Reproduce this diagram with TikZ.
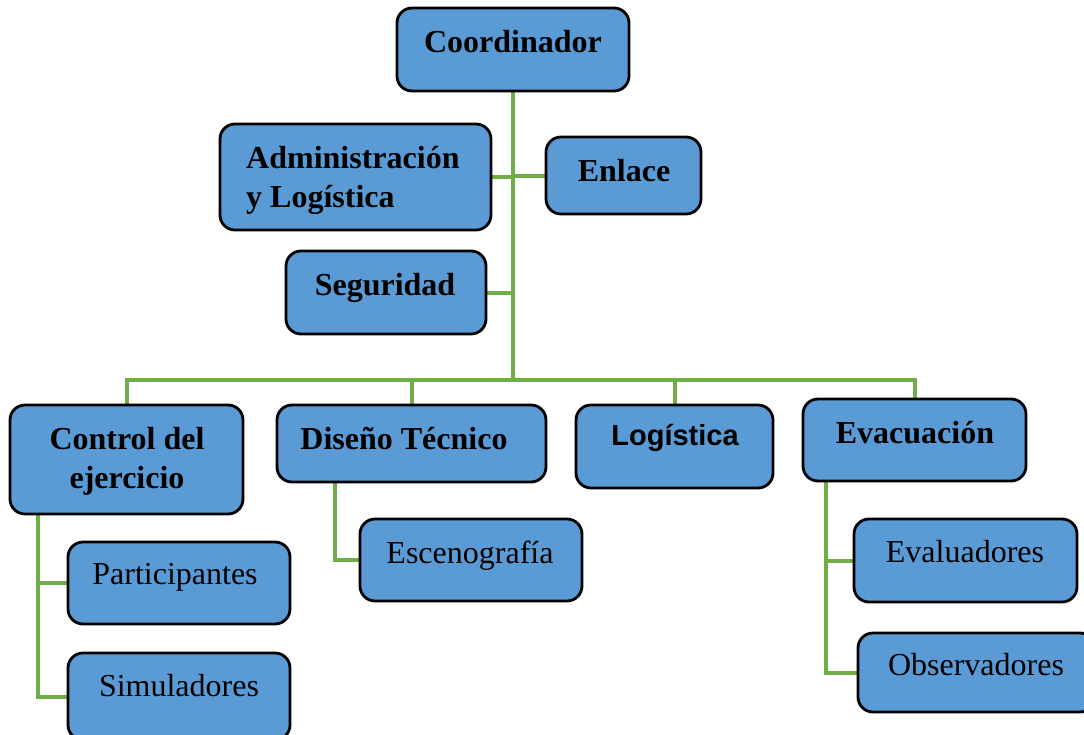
\documentclass[tikz,border=0pt]{standalone}
\usepackage{fontspec}
\setmainfont{Liberation Serif}
\newfontfamily\sansbold{Liberation Sans}
\usetikzlibrary{calc,backgrounds}
\definecolor{boxblue}{RGB}{91,155,213}
\definecolor{conngreen}{RGB}{112,173,71}
\tikzset{
  orgbox/.style={draw=black, line width=2.8pt, fill=boxblue, rounded corners=15pt, inner sep=0pt},
  conn/.style={draw=conngreen, line width=4pt},
  bt/.style={anchor=base, inner sep=0pt, font=\fontsize{32}{38}\selectfont\bfseries},
  rt/.style={anchor=base, inner sep=0pt, font=\fontsize{32}{38}\selectfont},
  st/.style={anchor=base, inner sep=0pt, font=\fontsize{29}{34}\selectfont\sansbold\bfseries},
}
\newcommand{\orgnode}[5]{% name, left, top, right, bottom
  \node[orgbox, minimum width={(#4-#2)*1pt}, minimum height={(#5-#3)*1pt}] (#1) at ({(#2+#4)/2},{(#3+#5)/2}) {};
}
\begin{document}
\begin{tikzpicture}[x=1pt, y=-1pt]
\useasboundingbox (0,0) rectangle (1084,734);
\coordinate (bus) at (513,380);
% boxes
\orgnode{coord}{397}{8}{629}{91}
\orgnode{admin}{220}{124}{491}{230}
\orgnode{enlace}{546}{137}{701}{214}
\orgnode{seg}{286}{251}{486}{334}
\orgnode{control}{10}{405}{243}{514}
\orgnode{diseno}{277}{405}{546}{482}
\orgnode{logis}{576}{405}{773}{488}
\orgnode{evac}{803}{399}{1026}{481}
\orgnode{partic}{68}{542}{290}{624}
\orgnode{simul}{68}{653}{290}{740}
\orgnode{esceno}{360}{519}{582}{601}
\orgnode{evalua}{854}{519}{1077}{602}
\orgnode{observ}{858}{633}{1095}{712}
% connectors behind boxes
\begin{scope}[on background layer]
\draw[conn] (coord.south) -- (bus);
\draw[conn] (admin.east) -- (admin.east -| bus);
\draw[conn] (enlace.west) -- (enlace.west -| bus);
\draw[conn] (seg.east) -- (seg.east -| bus);
\draw[conn] (control.north) |- (bus) -| (evac.north);
\draw[conn] (diseno.north) -- (diseno.north |- bus);
\draw[conn] (logis.north) -- (logis.north |- bus);
\coordinate (ctrunk) at ($(control.south west)+(29,0)$);
\draw[conn] (ctrunk) |- (simul.west);
\draw[conn] (partic.west) -- (partic.west -| ctrunk);
\coordinate (dtrunk) at ($(diseno.south west)+(59,0)$);
\draw[conn] (dtrunk) |- (esceno.west);
\coordinate (etrunk) at ($(evac.south west)+(24,0)$);
\draw[conn] (etrunk) |- (observ.west);
\draw[conn] (evalua.west) -- (evalua.west -| etrunk);
\end{scope}
% texts
\node[bt] (tcoord) at (513,52) {Coordinador};
\node[bt, anchor=base west] (tadmin1) at (246,168) {Administración};
\node[bt, anchor=base west] (tadmin2) at (246,207) {y Logística};
\node[bt] (tenlace) at (624,181) {Enlace};
\node[bt] (tseg) at (385,295) {Seguridad};
\node[bt] (tctrl1) at (127,449) {Control del};
\node[bt] (tctrl2) at (127,488) {ejercicio};
\node[bt] (tdis) at (404,449) {Diseño Técnico};
\node[st] (tlog) at (675,445) {Logística};
\node[bt] (tevac) at (915,443) {Evacuación};
\node[rt] (tpart) at (175,584) {Participantes};
\node[rt] (tsim) at (179,696) {Simuladores};
\node[rt] (tesc) at (470,563) {Escenografía};
\node[rt] (teval) at (965,562) {Evaluadores};
\node[rt] (tobs) at (976,675) {Observadores};
\end{tikzpicture}
\end{document}
